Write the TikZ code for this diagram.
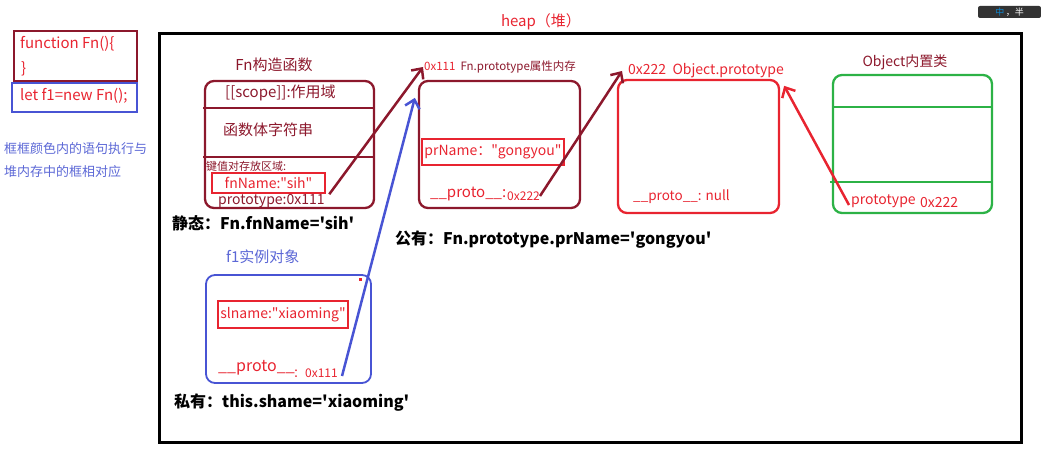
\documentclass[tikz,border=0pt]{standalone}
\usepackage{fontspec}
\newfontfamily\hfont{Noto Sans CJK SC}
\usetikzlibrary{arrows.meta}
\definecolor{fnred}{RGB}{140,24,44}
\definecolor{hred}{RGB}{232,36,48}
\definecolor{hblue}{RGB}{72,84,212}
\definecolor{hgreen}{RGB}{44,178,70}
\definecolor{noteblue}{RGB}{92,104,214}
\newcommand{\fs}[1]{\fontsize{#1}{#1}\selectfont}
\begin{document}
\begin{tikzpicture}%
	[x=1pt, y=-1pt,
	txt/.style={inner sep=0pt, anchor=west, font=\hfont\fs{15}},
	heapframe/.style={draw=black, line width=3pt, inner sep=0pt},
	codeframe/.style={line width=1.8pt, inner sep=0pt},
	fnframe/.style={draw=fnred, line width=2.3pt, rounded corners=9pt, inner sep=0pt},
	redframe/.style={draw=hred, line width=2.3pt, rounded corners=9pt, inner sep=0pt},
	greenframe/.style={draw=hgreen, line width=2.3pt, rounded corners=9pt, inner sep=0pt},
	blueframe/.style={draw=hblue, line width=1.8pt, rounded corners=9pt, inner sep=0pt},
	keybox/.style={draw=hred, line width=2.5pt, inner sep=0pt, text=hred, font=\hfont\fs{14}},
	fnline/.style={draw=fnred, line width=2.3pt},
	greenline/.style={draw=hgreen, line width=2.3pt},
	darrow/.style={line width=2.5pt, -{Straight Barb[length=8pt,width=15pt]}}]
%
\useasboundingbox (0,0) rectangle (1041,460);
%%
%% Code on the left
%%
\node (fncode) [codeframe, draw=fnred, minimum width=123pt, minimum height=50pt] at (75.5,56) {};
\node (letcode) [codeframe, draw=hblue, minimum width=125pt, minimum height=29pt] at (74.5,97.5) {};
\node (fnline1) [txt, text=hred] at (20,44) {function Fn()\{};
\node (fnline2) [txt, text=hred] at (21,69) {\}};
\node (letline) [txt, text=hred] at (20,96) {let f1=new Fn();};
\node (note1) [txt, text=noteblue, font=\hfont\fs{13}] at (4,149) {框框颜色内的语句执行与};
\node (note2) [txt, text=noteblue, font=\hfont\fs{13}] at (4,172) {堆内存中的框相对应};
%%
%% The heap
%%
\node (heap) [heapframe, minimum width=862pt, minimum height=408pt] at (590,238) {};
\node (heaplbl) [txt, text=hred, anchor=center] at (541,22) {heap（堆）};
%%
%% Fn constructor
%%
\node (fnbox) [fnframe, minimum width=169pt, minimum height=127pt] at (289.5,144.5) {};
\draw[fnline] (203,108) -- (375,108);
\draw[fnline] (203,157) -- (375,157);
\node (fnlbl) [txt, text=fnred, anchor=center] at (274,65) {Fn构造函数};
\node (scope) [txt, text=fnred] at (225,93) {[[scope]]:作用域};
\node (body) [txt, text=fnred] at (223,130) {函数体字符串};
\node (kv) [txt, text=fnred, font=\hfont\fs{11}] at (206,166) {键值对存放区域:};
\node (fnkey) [keybox, minimum width=113pt, minimum height=20pt] at (268.5,183) {fnName:"sih"};
\node (fnproto) [txt, text=fnred, font=\hfont\fs{14}] at (218,201) {prototype:0x111};
\node (static) [txt, font=\hfont\bfseries\fs{16}] at (172,223) {静态：Fn.fnName='sih'};
%%
%% Fn.prototype
%%
\node (protobox) [fnframe, minimum width=161pt, minimum height=127pt] at (499.5,144.5) {};
\node (pmlbl) [txt, text=fnred, font=\hfont\fs{11.5}] at (424,67) {\textcolor{hred}{0x111}\ \ Fn.prototype属性内存};
\node (prkey) [keybox, minimum width=142pt, minimum height=26pt] at (493,152) {prName："gongyou"};
\node (pproto) [txt, text=hred] at (430,194) {\_\_proto\_\_:};
\node (p222) [txt, text=hred, font=\hfont\fs{12}] at (507,196) {0x222};
\node (public) [txt, font=\hfont\bfseries\fs{16}] at (395,240) {公有：Fn.prototype.prName='gongyou'};
%%
%% Object.prototype
%%
\node (opbox) [redframe, minimum width=161pt, minimum height=133pt] at (698.5,146.5) {};
\node (oplbl) [txt, text=hred, font=\hfont\fs{14}] at (628,71) {0x222\ \ Object.prototype};
\node (opproto) [txt, text=hred, font=\hfont\fs{13.5}] at (633,197) {\_\_proto\_\_: null};
%%
%% Object class
%%
\node (objbox) [greenframe, minimum width=159pt, minimum height=138pt] at (912.5,144) {};
\draw[greenline] (833,107) -- (992,107);
\draw[greenline] (830,182) -- (992,182);
\node (objlbl) [txt, text=fnred, anchor=center, font=\hfont\fs{14}] at (905,62) {Object内置类};
\node (ptlbl) [txt, text=hred, font=\hfont\fs{14}] at (851,201) {prototype};
\node (pt222) [txt, text=hred, font=\hfont\fs{14}] at (920,203) {0x222};
%%
%% f1 instance
%%
\node (f1box) [blueframe, minimum width=165pt, minimum height=108pt] at (288.5,329) {};
\node (f1lbl) [txt, text=noteblue] at (226,257) {f1实例对象};
\node (slkey) [keybox, minimum width=130pt, minimum height=27pt] at (283,314.5) {slname:"xiaoming"};
\node (f1proto) [txt, text=hred, font=\hfont\fs{16}] at (218,368) {\_\_proto\_\_};
\node (f111) [txt, text=hred, font=\hfont\fs{12}] at (293,373) {：0x111};
\fill[hred] (358.5,277.5) rectangle (361.5,280.5);
\node (private) [txt, font=\hfont\bfseries\fs{16}] at (174,403) {私有：this.shame='xiaoming'};
%%
%% Arrows
%%
\draw[darrow, fnred] ([xshift=3pt]fnkey.south east) -- ([xshift=-1pt]pmlbl.west);
\draw[darrow, fnred] (p222.east) -- ([xshift=-6pt]oplbl.west);
\draw[darrow, hred] ([xshift=-2pt,yshift=-4pt]ptlbl.west) -- ([xshift=4pt,yshift=-7pt]opbox.north east);
\draw[darrow, hblue] ([xshift=4pt,yshift=-3pt]f111.east) -- ([xshift=-3pt,yshift=-18pt]protobox.north west);
%%
%% Input method bar
%%
\node (ime) [fill=black!80, rounded corners=2pt, minimum width=63pt, minimum height=12pt, inner sep=0pt, font=\hfont\fs{9}, text=white] at (1009.5,12) {\textcolor{cyan!70!blue}{中}\,，半};
\end{tikzpicture}
\end{document}
